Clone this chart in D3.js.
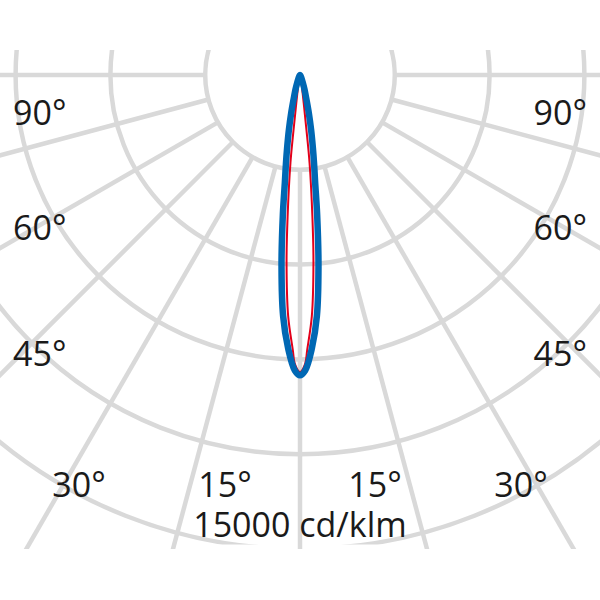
<!DOCTYPE html>
<html>
<head>
<meta charset="utf-8">
<script src="https://cdn.jsdelivr.net/npm/d3@7"></script>
<style>
  html, body { margin: 0; padding: 0; background: #fff; }
  svg { display: block; }
</style>
</head>
<body>
<div id="chart"></div>
<script>
// ---- data ----
const intensityTicks = [3000, 6000, 9000, 12000, 15000];   // cd/klm circles
const scaleLabel = "15000 cd/klm";
const rayAngles = [-90, -75, -60, -45, -30, -15, 0, 15, 30, 45, 60, 75, 90]; // degrees from nadir
const sideLabelAngles = [90, 60, 45];
const bottomLabelAngles = [30, 15];

// C0-C180 plane (blue)
const blueGamma = [0, 1, 2.5, 4, 5.5, 7, 8, 9, 10, 11.5, 13, 15, 17.5, 20, 25, 30, 40, 180];
const blueCd    = [9500, 9350, 8650, 7650, 6100, 4450, 3450, 2850, 2350, 1750, 1250, 750, 450, 250, 100, 40, 10, 0];
// C90-C270 plane (red)
const redGamma = [0, 1, 1.5, 2.8, 4.1, 5, 6.2, 6.7, 7.5, 9, 12, 20, 40, 180];
const redCd    = [9400, 9150, 8700, 7650, 5950, 4500, 2800, 1750, 900, 400, 120, 30, 5, 0];

// ---- layout ----
const W = 600, H = 600;
const cx = 300, cy = 75;
const clipTop = 50, clipBottom = 549;

const svg = d3.select("#chart").append("svg")
  .attr("width", W).attr("height", H);

const r = d3.scaleLinear().domain([0, 15000]).range([0, 474]);
const rad = d => d * Math.PI / 180;

const defs = svg.append("defs");
defs.append("clipPath").attr("id", "clipRays")
  .append("rect").attr("x", 0).attr("y", clipTop).attr("width", W).attr("height", clipBottom - clipTop);
defs.append("clipPath").attr("id", "clipArcs")
  .append("rect").attr("x", 0).attr("y", clipTop).attr("width", W).attr("height", 544.5 - clipTop);

const gridColor = "#d9d9d9";
const gridW = 4.5;

// rays
const gRays = svg.append("g").attr("clip-path", "url(#clipRays)");
const rIn = r(intensityTicks[0]);
const rOut = 900;
gRays.selectAll("line").data(rayAngles).join("line")
  .attr("x1", a => cx + rIn * Math.sin(rad(a)))
  .attr("y1", a => cy + rIn * Math.cos(rad(a)))
  .attr("x2", a => cx + rOut * Math.sin(rad(a)))
  .attr("y2", a => cy + rOut * Math.cos(rad(a)))
  .attr("stroke", gridColor).attr("stroke-width", gridW);

// circles
const gArcs = svg.append("g").attr("clip-path", "url(#clipArcs)");
gArcs.selectAll("circle").data(intensityTicks).join("circle")
  .attr("cx", cx).attr("cy", cy).attr("r", d => r(d))
  .attr("fill", "none").attr("stroke", gridColor).attr("stroke-width", gridW);

// curves
function polarPoints(gamma, cd) {
  const right = gamma.map((g, i) => [Math.PI - rad(g), r(cd[i])]);
  const left = [];
  for (let i = gamma.length - 2; i >= 1; i--) left.push([Math.PI + rad(gamma[i]), r(cd[i])]);
  return right.concat(left);
}
const radial = d3.lineRadial()
  .angle(d => d[0]).radius(d => d[1])
  .curve(d3.curveCatmullRomClosed.alpha(0.5));

const gCurves = svg.append("g").attr("transform", `translate(${cx},${cy})`);
gCurves.append("path")
  .attr("d", radial(polarPoints(redGamma, redCd)))
  .attr("fill", "none").attr("stroke", "#e2001a").attr("stroke-width", 2);
gCurves.append("path")
  .attr("d", radial(polarPoints(blueGamma, blueCd)))
  .attr("fill", "none").attr("stroke", "#0068b4").attr("stroke-width", 6.5)
  .attr("stroke-linejoin", "round");

// labels
const font = "'Open Sans', 'Noto Sans', sans-serif";
const fs = 34;
const txt = svg.append("g").attr("font-family", font).attr("font-size", fs).attr("fill", "#1a1a1a");
const sideY = {90: 125, 60: 240, 45: 366};
sideLabelAngles.forEach(a => {
  txt.append("text").attr("x", 13).attr("y", sideY[a]).attr("text-anchor", "start").text(a + "°");
  txt.append("text").attr("x", W - 13).attr("y", sideY[a]).attr("text-anchor", "end").text(a + "°");
});
const bottomX = {30: 79, 15: 225};
bottomLabelAngles.forEach(a => {
  txt.append("text").attr("x", bottomX[a]).attr("y", 497).attr("text-anchor", "middle").text(a + "°");
  txt.append("text").attr("x", W - bottomX[a]).attr("y", 497).attr("text-anchor", "middle").text(a + "°");
});
txt.append("text").attr("x", cx).attr("y", 537).attr("text-anchor", "middle").text(scaleLabel);
</script>
</body>
</html>
